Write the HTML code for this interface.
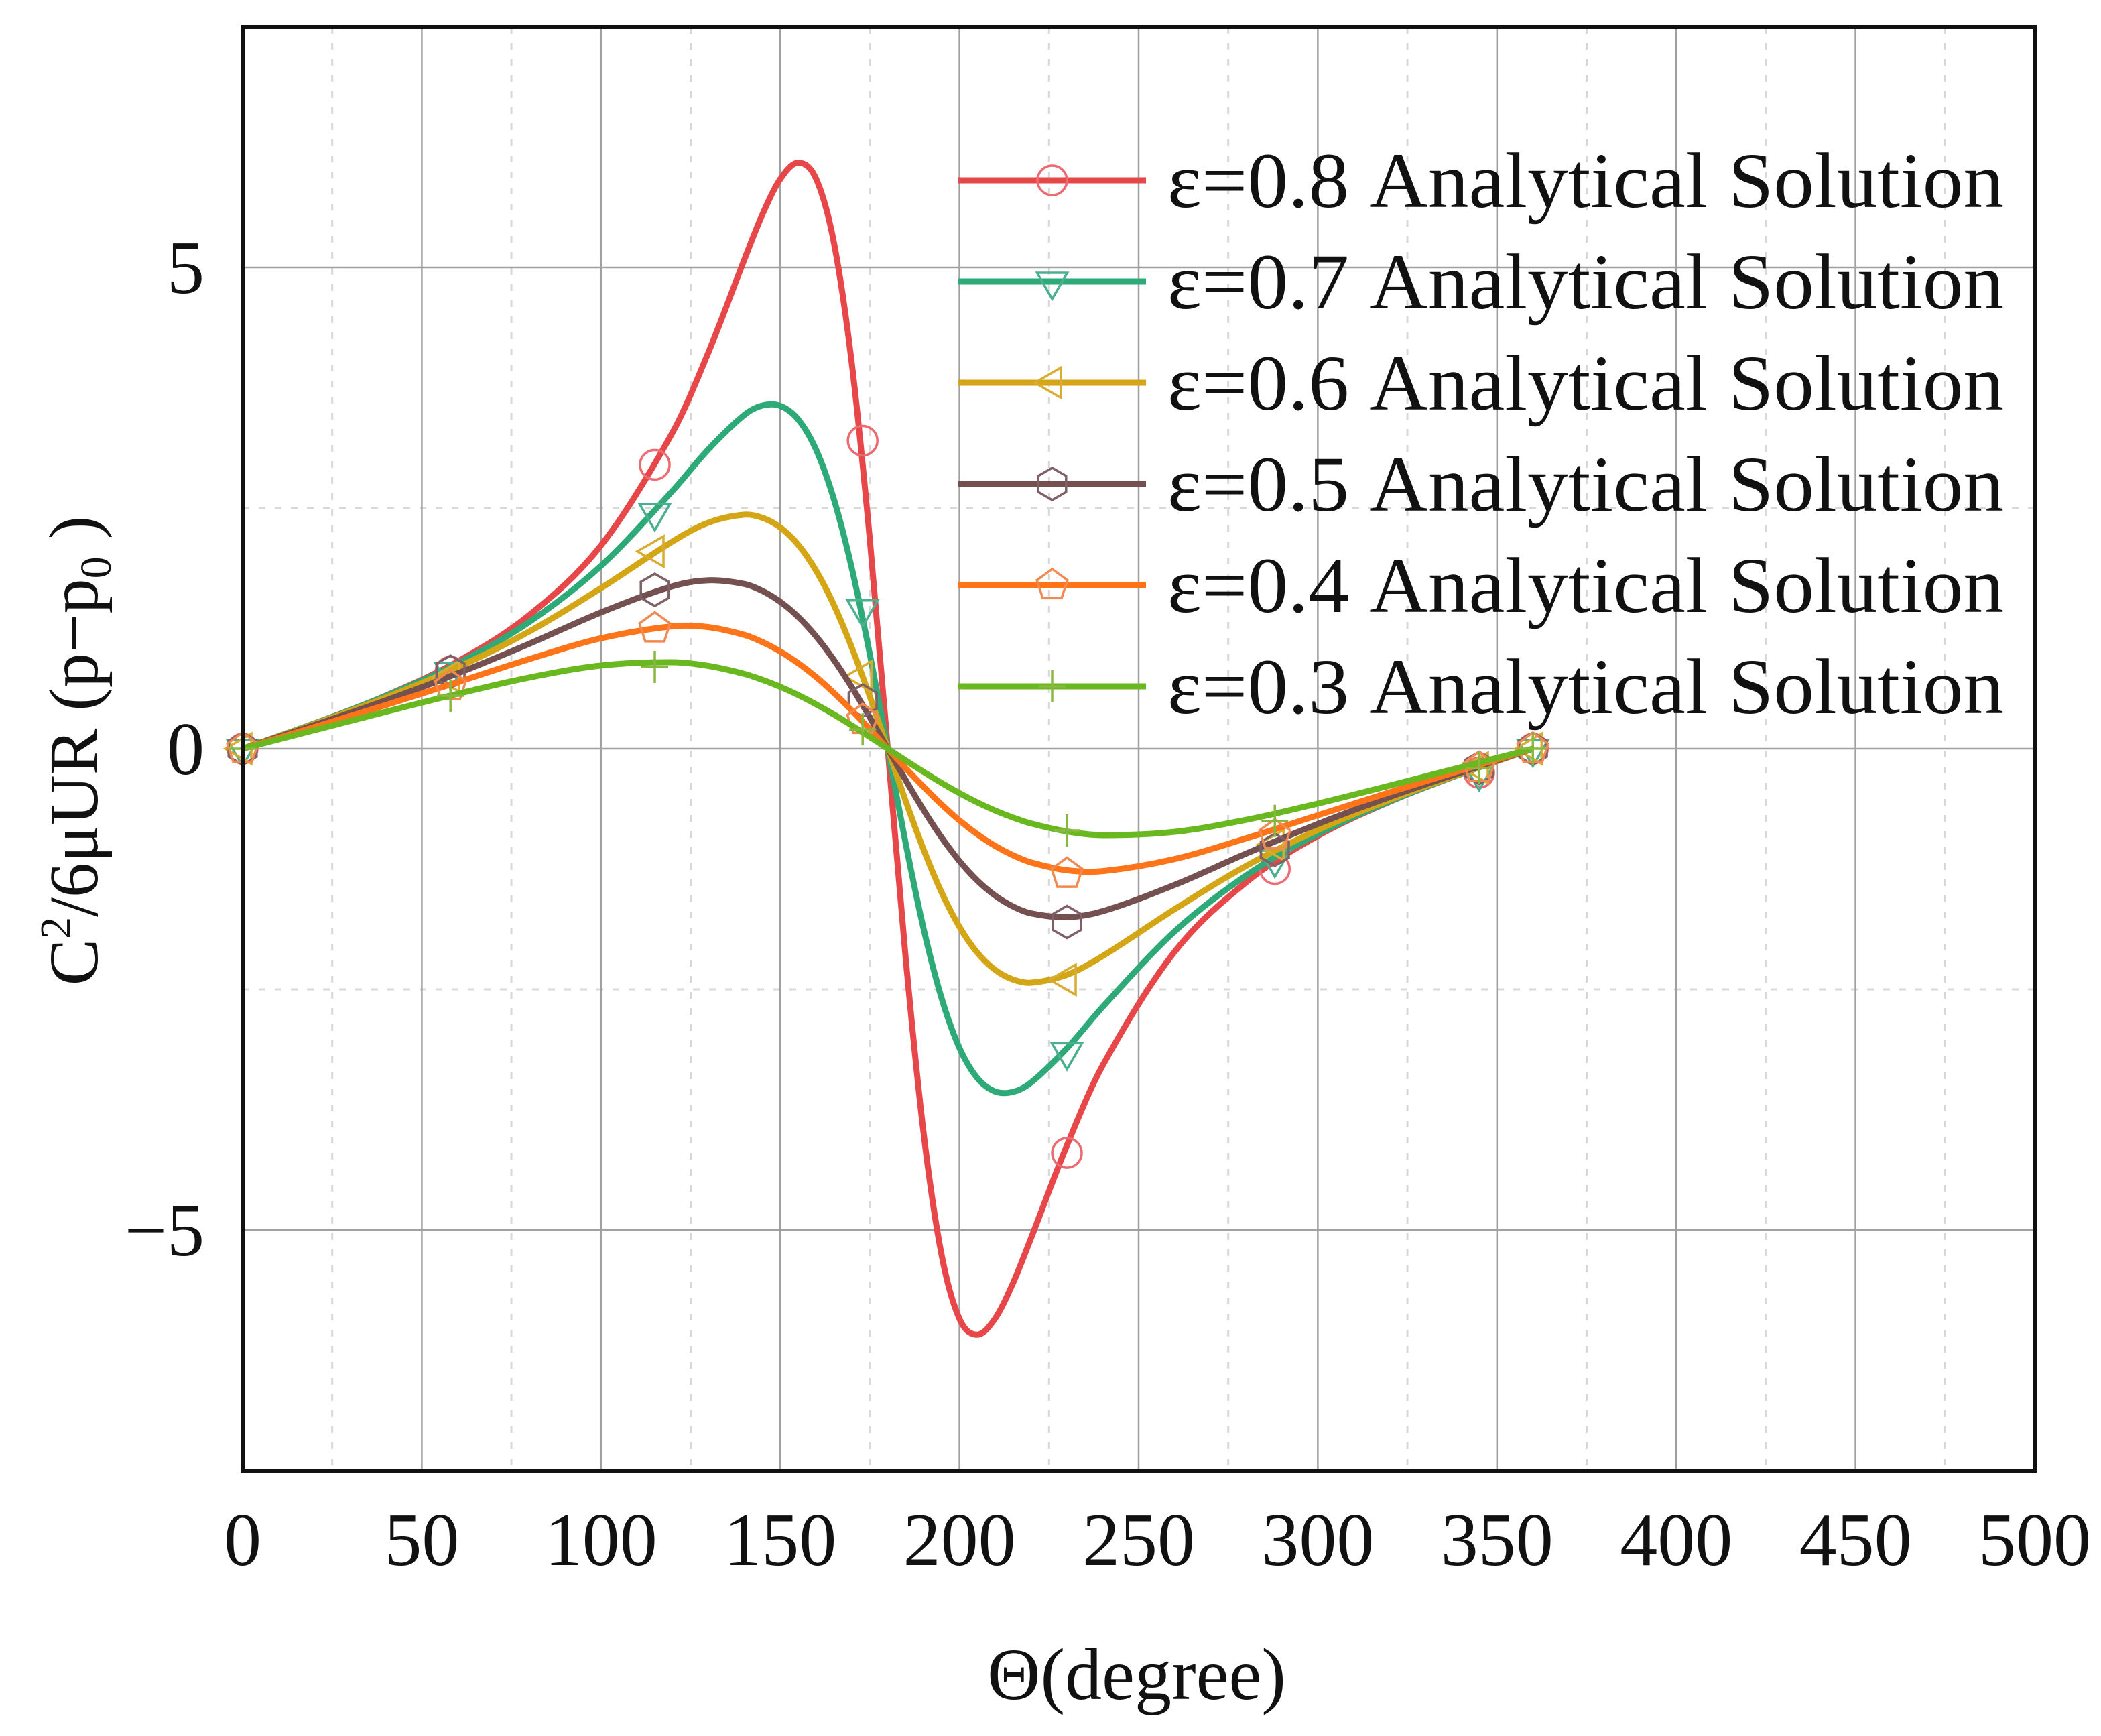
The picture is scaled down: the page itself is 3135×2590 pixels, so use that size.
<!DOCTYPE html>
<html><head><meta charset="utf-8"><style>
html,body{margin:0;padding:0;background:#fff}
svg{display:block}
text{font-family:"Liberation Serif",serif;fill:#111}
</style></head><body>
<svg id="chart" width="3135" height="2590" viewBox="0 0 3135 2590" xmlns="http://www.w3.org/2000/svg">
<g id="grid"></g>
<g id="series"></g>
<rect x="362" y="40" width="2674" height="2154" fill="none" stroke="#111" stroke-width="6"/>
<g id="ticks"></g>
<text x="1696" y="2535" font-size="110" text-anchor="middle">Θ(degree)</text>
<text transform="translate(145,1120) rotate(-90)" font-size="104" text-anchor="middle">C<tspan font-size="66" dy="-40">2</tspan><tspan dy="40">/6μUR (p−p</tspan><tspan font-size="66" dy="20">0</tspan><tspan dy="-20"> )</tspan></text>
<g id="legend"></g>
</svg>
<script>
const theta = [0,20,40,60,80,100,120,130,140,145,150,155,160,165,170,175,180,185,190,195,200,205,210,215,220,230,240,260,280,300,320,340,360];
const labels = ["ε=0.8 Analytical Solution","ε=0.7 Analytical Solution","ε=0.6 Analytical Solution","ε=0.5 Analytical Solution","ε=0.4 Analytical Solution","ε=0.3 Analytical Solution"];
const p08 = [0,0.262,0.552,0.906,1.388,2.112,3.289,4.121,5.083,5.548,5.918,6.088,5.922,5.254,3.993,2.175,0,-2.175,-3.993,-5.254,-5.922,-6.088,-5.918,-5.548,-5.083,-4.121,-3.289,-2.112,-1.388,-0.906,-0.552,-0.262,0];
const p07 = [0,0.262,0.548,0.885,1.317,1.900,2.681,3.112,3.468,3.565,3.562,3.422,3.108,2.589,1.870,0.983,0,-0.983,-1.870,-2.589,-3.108,-3.422,-3.562,-3.565,-3.468,-3.112,-2.681,-1.900,-1.317,-0.885,-0.548,-0.262,0];
const p06 = [0,0.257,0.532,0.845,1.218,1.668,2.154,2.349,2.431,2.399,2.299,2.120,1.850,1.491,1.048,0.542,0,-0.542,-1.048,-1.491,-1.850,-2.120,-2.299,-2.399,-2.431,-2.349,-2.154,-1.668,-1.218,-0.845,-0.532,-0.257,0];
const p05 = [0,0.245,0.502,0.782,1.090,1.416,1.688,1.750,1.711,1.640,1.527,1.370,1.167,0.921,0.637,0.326,0,-0.326,-0.637,-0.921,-1.167,-1.370,-1.527,-1.640,-1.711,-1.750,-1.688,-1.416,-1.090,-0.782,-0.502,-0.245,0];
const p04 = [0,0.224,0.454,0.691,0.931,1.147,1.272,1.263,1.182,1.108,1.011,0.889,0.745,0.579,0.396,0.202,0,-0.202,-0.396,-0.579,-0.745,-0.889,-1.011,-1.108,-1.182,-1.263,-1.272,-1.147,-0.931,-0.691,-0.454,-0.224,0];
const p03 = [0,0.192,0.384,0.570,0.739,0.864,0.898,0.860,0.777,0.716,0.643,0.558,0.461,0.355,0.241,0.122,0,-0.122,-0.241,-0.355,-0.461,-0.558,-0.643,-0.716,-0.777,-0.860,-0.898,-0.864,-0.739,-0.570,-0.384,-0.192,0];
const markerTheta = [0,58,115,173,230,288,345,360];
const m08 = [0,0.8,2.95,3.2,-4.2,-1.25,-0.25,0];
const m07 = [0,0.8,2.45,1.45,-3.15,-1.15,-0.25,0];
const m06 = [0,0.75,2.05,0.75,-2.4,-1.0,-0.2,0];
const m05 = [0,0.8,1.65,0.5,-1.8,-1.05,-0.2,0];
const m04 = [0,0.65,1.25,0.3,-1.3,-0.9,-0.2,0];
const m03 = [0,0.55,0.85,0.2,-0.85,-0.75,-0.2,0];
const xTicks = [0,50,100,150,200,250,300,350,400,450,500];
const yTicks = [-5,0,5];
const yTickLabels = ["−5","0","5"];

const NS="http://www.w3.org/2000/svg";
const L=362,R=3036,T=40,B=2194;
const X=v=>L+(v-0)/(500-0)*(R-L);
const Y=v=>B-(v+7.5)/15*(B-T);
function mk(tag,attrs,parent){const e=document.createElementNS(NS,tag);for(const k in attrs)e.setAttribute(k,attrs[k]);parent.appendChild(e);return e;}
const grid=document.getElementById('grid');
for(let v=25;v<500;v+=50){const e=mk('line',{x1:X(v),x2:X(v),y1:T,y2:B,stroke:'#d8d8d8','stroke-width':3,'stroke-dasharray':'10,14'},grid);

}
[-2.5,2.5].forEach(v=>{const e=mk('line',{x1:L,x2:R,y1:Y(v),y2:Y(v),stroke:'#d8d8d8','stroke-width':3,'stroke-dasharray':'10,14'},grid);

});
xTicks.forEach(v=>{const e=mk('line',{x1:X(v),x2:X(v),y1:T,y2:B,stroke:'#a0a0a0','stroke-width':2.5},grid);

});
yTicks.forEach(v=>{const e=mk('line',{x1:L,x2:R,y1:Y(v),y2:Y(v),stroke:'#a0a0a0','stroke-width':2.5},grid);

});
const ticks=document.getElementById('ticks');
xTicks.forEach(v=>{const t=mk('text',{x:X(v),y:2335,'font-size':112,'text-anchor':'middle'},ticks);t.textContent=v;

});
yTicks.forEach((v,i)=>{const t=mk('text',{x:305,y:Y(v)+38,'font-size':112,'text-anchor':'end'},ticks);t.textContent=yTickLabels[i];

});

const cols=['#e8474a','#2eaa78','#d4a514','#745050','#ff7418','#6ab820'];
const mcols=['#ec6a70','#4ab090','#d8ac30','#806068','#f08a50','#88b840'];
const shapes=['circle','tridown','trileft','hex','pent','plus'];
const series=[p08,p07,p06,p05,p04,p03];
const marks=[m08,m07,m06,m05,m04,m03];
function pathFrom(xs,ys){const P=xs.map((x,i)=>[X(x),Y(ys[i])]);let d='M'+P[0][0]+','+P[0][1];
for(let i=0;i<P.length-1;i++){const p0=P[Math.max(i-1,0)],p1=P[i],p2=P[i+1],p3=P[Math.min(i+2,P.length-1)];
const h=p2[0]-p1[0];
const s1=(p2[1]-p0[1])/((p2[0]-p0[0])||1), s2=(p3[1]-p1[1])/((p3[0]-p1[0])||1);
const c1=[p1[0]+h/3,p1[1]+s1*h/3],c2=[p2[0]-h/3,p2[1]-s2*h/3];
d+=`C${c1[0]},${c1[1]} ${c2[0]},${c2[1]} ${p2[0]},${p2[1]}`;}return d;}
function poly(n,r,cx,cy,rot){let pts=[];for(let k=0;k<n;k++){const a=rot+k*2*Math.PI/n;pts.push((cx+r*Math.cos(a))+','+(cy+r*Math.sin(a)));}return pts.join(' ');}
function marker(shape,cx,cy,col,parent){const s={fill:'none',stroke:col,'stroke-width':3.5};let e;
if(shape==='circle')e=mk('circle',Object.assign({cx,cy,r:22},s),parent);
else if(shape==='tridown')e=mk('polygon',Object.assign({points:poly(3,26,cx,cy,Math.PI/2)},s),parent);
else if(shape==='trileft')e=mk('polygon',Object.assign({points:poly(3,26,cx,cy,Math.PI)},s),parent);
else if(shape==='hex')e=mk('polygon',Object.assign({points:poly(6,24,cx,cy,Math.PI/2)},s),parent);
else if(shape==='pent')e=mk('polygon',Object.assign({points:poly(5,24,cx,cy,-Math.PI/2)},s),parent);
else e=mk('path',Object.assign({d:`M${cx-20},${cy}H${cx+20}M${cx},${cy-24}V${cy+24}`},s),parent);
return e;}
const sg=document.getElementById('series');
series.forEach((vals,i)=>{
const g=mk('g',{},sg);


const p=mk('path',{d:pathFrom(theta,vals),fill:'none',stroke:cols[i],'stroke-width':9,'stroke-linejoin':'round'},g);


markerTheta.forEach((t,j)=>{const m=marker(shapes[i],X(t),Y(marks[i][j]),mcols[i],g);

});
});
const lg=document.getElementById('legend');
labels.forEach((lab,i)=>{const y=269+i*151;
const g=mk('g',{},lg);


mk('line',{x1:1430,x2:1710,y1:y,y2:y,stroke:cols[i],'stroke-width':9},g);
marker(shapes[i],1570,y,mcols[i],g);
const t=mk('text',{x:1742,y:y+40,'font-size':118,textLength:1248,lengthAdjust:'spacingAndGlyphs'},g);t.textContent=lab;});
</script>
</body></html>
